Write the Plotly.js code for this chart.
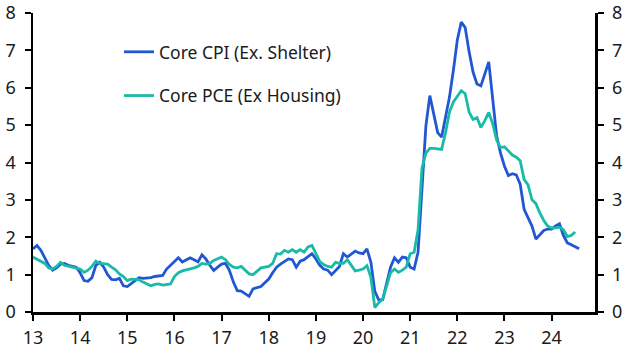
<!DOCTYPE html>
<html>
<head>
<meta charset="utf-8">
<script src="https://cdn.plot.ly/plotly-3.0.1.min.js"></script>
<style>html,body{margin:0;padding:0;background:#fff;}#chart{width:627px;height:353px;}</style>
</head>
<body>
<div id="chart"></div>
<script>
// Monthly data, starting January 2013 (year-on-year, %)
const startYear = 2013;
const cpiExShelter = [
1.69,1.78,1.65,1.45,1.25,1.12,1.18,1.28,1.30,1.25,1.22,1.20,
1.05,0.84,0.82,0.92,1.25,1.33,1.20,1.00,0.87,0.86,0.90,0.70,
0.68,0.76,0.85,0.92,0.90,0.90,0.92,0.95,0.96,0.98,1.15,1.25,
1.35,1.45,1.34,1.40,1.45,1.40,1.34,1.53,1.42,1.25,1.11,1.20,
1.28,1.30,1.11,0.80,0.57,0.56,0.50,0.42,0.62,0.66,0.68,0.78,
0.88,1.05,1.20,1.28,1.35,1.42,1.40,1.20,1.36,1.40,1.48,1.56,
1.42,1.25,1.15,1.12,1.00,1.10,1.22,1.56,1.47,1.55,1.63,1.58,
1.56,1.69,1.33,0.55,0.32,0.33,0.75,1.20,1.45,1.33,1.47,1.45,
1.20,1.15,1.60,3.40,4.98,5.79,5.30,4.80,4.68,5.25,5.75,6.47,
7.28,7.76,7.61,6.96,6.42,6.10,6.05,6.37,6.69,5.70,4.71,4.25,
3.90,3.65,3.70,3.67,3.42,2.75,2.50,2.30,1.95,2.07,2.18,2.22,
2.22,2.30,2.36,2.05,1.85,1.80,1.75,1.69
];
const pceExHousing = [
1.47,1.42,1.37,1.30,1.18,1.15,1.22,1.33,1.25,1.22,1.20,1.18,
1.15,1.06,1.12,1.22,1.36,1.30,1.30,1.28,1.20,1.13,1.02,0.95,
0.84,0.88,0.87,0.86,0.80,0.76,0.70,0.74,0.75,0.72,0.73,0.75,
0.95,1.05,1.10,1.12,1.15,1.18,1.22,1.30,1.28,1.30,1.38,1.42,
1.47,1.40,1.27,1.20,1.18,1.22,1.13,1.02,1.00,1.10,1.18,1.20,
1.22,1.30,1.56,1.55,1.65,1.60,1.67,1.60,1.67,1.60,1.74,1.78,
1.58,1.35,1.27,1.22,1.20,1.33,1.30,1.30,1.40,1.24,1.10,1.12,
1.15,1.24,0.93,0.12,0.25,0.34,0.70,1.05,1.15,1.06,1.12,1.20,
1.56,1.60,2.20,3.85,4.25,4.38,4.38,4.36,4.35,4.80,5.35,5.62,
5.78,5.92,5.84,5.35,5.15,5.20,4.94,5.12,5.34,5.04,4.60,4.40,
4.42,4.30,4.20,4.14,4.05,3.55,3.40,3.00,2.90,2.65,2.45,2.30,
2.25,2.25,2.27,2.20,2.02,2.05,2.14
];
const seriesNames = ['Core CPI (Ex. Shelter)', 'Core PCE (Ex Housing)'];
const tickYears = [2013,2014,2015,2016,2017,2018,2019,2020,2021,2022,2023,2024];
const tickLabels = ['13','14','15','16','17','18','19','20','21','22','23','24'];
const yTicks = [0,1,2,3,4,5,6,7,8];

const xOf = arr => arr.map((_, i) => startYear + i / 12);
const FONT = '"Noto Sans", "Open Sans", sans-serif';

const traces = [
  {x: xOf(cpiExShelter), y: cpiExShelter, name: seriesNames[0], type: 'scatter', mode: 'lines',
   line: {color: '#2157D3', width: 2.8}, legendgroup: 'a', yaxis: 'y'},
  {x: xOf(pceExHousing), y: pceExHousing, name: seriesNames[1], type: 'scatter', mode: 'lines',
   line: {color: '#18BBA6', width: 2.8}, legendgroup: 'b', yaxis: 'y2'}
];

const yCommon = {
  range: [0, 8], tickvals: yTicks, ticks: 'outside', ticklen: 6, tickwidth: 2, tickcolor: '#000',
  showline: true, linewidth: 2.5, linecolor: '#000', showgrid: false, zeroline: false,
  tickfont: {family: FONT, size: 18, color: '#1a1a1a'}, ticklabelstandoff: 5, fixedrange: true
};

const layout = {
  width: 627, height: 353,
  margin: {l: 33, r: 32, t: 13, b: 41},
  paper_bgcolor: '#fff', plot_bgcolor: '#fff',
  showlegend: true,
  legend: {x: 0.153, y: 0.93, xanchor: 'left', yanchor: 'top', bgcolor: 'rgba(0,0,0,0)',
           font: {family: FONT, size: 17.5, color: '#1a1a1a'}, tracegroupgap: 18, traceorder: 'grouped'},
  xaxis: {
    range: [2013, 2024.92], tickvals: tickYears, ticktext: tickLabels,
    ticks: 'outside', ticklen: 6, tickwidth: 2, tickcolor: '#000',
    showline: true, linewidth: 2.5, linecolor: '#000', showgrid: false, zeroline: false,
    tickfont: {family: FONT, size: 18, color: '#1a1a1a'}, ticklabelstandoff: 2, fixedrange: true
  },
  yaxis: Object.assign({side: 'left'}, yCommon),
  yaxis2: Object.assign({side: 'right', overlaying: 'y', matches: 'y'}, yCommon)
};

Plotly.newPlot('chart', traces, layout, {displayModeBar: false, staticPlot: true});
</script>
</body>
</html>
